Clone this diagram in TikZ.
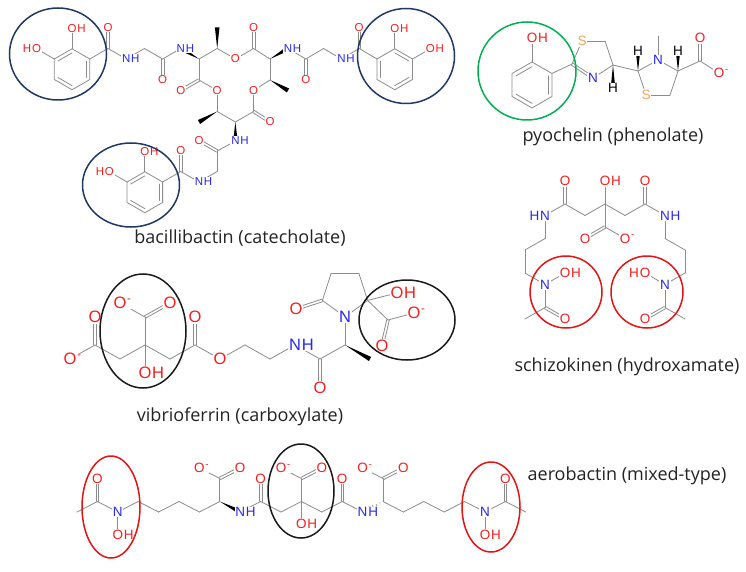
\documentclass[tikz,border=0pt]{standalone}
\usepackage{fontspec}
\usetikzlibrary{calc}
\newfontfamily\atomf{Liberation Sans}
\newfontfamily\capf{Open Sans}
\definecolor{bondc}{RGB}{140,140,140}
\definecolor{oc}{RGB}{245,30,30}
\definecolor{nc}{RGB}{40,40,235}
\definecolor{sc}{RGB}{245,165,95}
\definecolor{navyc}{RGB}{31,56,100}
\definecolor{greenc}{RGB}{0,176,80}
\definecolor{redc}{RGB}{228,20,20}
\definecolor{blackc}{RGB}{25,25,25}
\definecolor{capc}{RGB}{35,35,35}
\tikzset{
 bond/.style={draw=bondc,line width=0.8pt,line cap=round,line join=round},
 lbl/.style={fill=white,inner sep=0.8pt,outer sep=0pt},
 ringmark/.style={line width=1.5pt},
 caption/.style={font=\capf\fontsize{18pt}{20pt}\selectfont,text=capc,inner sep=0pt},
}
\newcommand{\chB}[2]{\draw[bond] (#1) -- (#2);}
\newcommand{\chD}[2]{\draw[bond] ($(#1)!1.3pt!90:(#2)$) -- ($(#2)!1.3pt!-90:(#1)$);\draw[bond] ($(#1)!1.3pt!-90:(#2)$) -- ($(#2)!1.3pt!90:(#1)$);}
\newcommand{\chI}[3]{\draw[bond] ($(#1)!0.2!(#3)$) -- ($(#2)!0.2!(#3)$);}
\newcommand{\chW}[2]{\fill[black] (#1) -- ($(#2)!2.3pt!90:(#1)$) -- ($(#2)!2.3pt!-90:(#1)$) -- cycle;}
\newcommand{\chH}[2]{\foreach \hp/\hw in {0.15/0.5pt,0.32/1pt,0.49/1.5pt,0.66/2pt,0.83/2.5pt}{\coordinate (hh) at ($(#1)!\hp!(#2)$); \draw[draw=bondc,line width=0.7pt] ($(hh)!\hw!90:(#2)$) -- ($(hh)!\hw!-90:(#2)$);}}
\newcommand{\chA}[3]{\node[lbl,text=#2] (#1t) at (#1) {#3};}
\newcommand{\chAR}[4]{\node[lbl,text=#2] (#1t) at (#1) {#3};\node[lbl,text=#2,anchor=base west,inner xsep=0pt] (#1s) at (#1t.base east) {#4};}
\newcommand{\chAL}[4]{\node[lbl,text=#2] (#1t) at (#1) {#3};\node[lbl,text=#2,anchor=base east,inner xsep=0pt] (#1s) at (#1t.base west) {#4};}
\newcommand{\chHex}[4]{%
 \coordinate (#1c) at (#2,#3);
 \coordinate (#11) at ({#2},{#3-#4});
 \coordinate (#12) at ({#2+0.866*#4},{#3-0.5*#4});
 \coordinate (#13) at ({#2+0.866*#4},{#3+0.5*#4});
 \coordinate (#14) at ({#2},{#3+#4});
 \coordinate (#15) at ({#2-0.866*#4},{#3+0.5*#4});
 \coordinate (#16) at ({#2-0.866*#4},{#3-0.5*#4});
 \draw[bond] (#11)--(#12)--(#13)--(#14)--(#15)--(#16)--cycle;}
\newcommand{\chMinus}{\textsuperscript{-}}
\begin{document}
\begin{tikzpicture}[x=1pt,y=-1pt]
\useasboundingbox (0,0) rectangle (746,572);
\fill[white] (0,0) rectangle (746,572);
% ================= bacillibactin =================
\begin{scope}[every node/.append style={font=\atomf\fontsize{11.5pt}{13pt}\selectfont}]
\chHex{bL}{72.05}{69.25}{20.5}
\coordinate (bLO1) at (72.05,28.25);
\coordinate (bLO2) at (36.55,48.75);
\coordinate (bC1) at (108,48.5);
\coordinate (bO1) at (108,27.5);
\coordinate (bN0) at (126.2,59);
\coordinate (bC2) at (144.4,48.5);
\coordinate (bC3) at (162.6,59);
\coordinate (bO3) at (162.6,80);
\coordinate (bN1) at (180.8,48.5);
\coordinate (bA1) at (199,59);
\coordinate (bB1) at (217.2,48.5);
\coordinate (bM1) at (217.2,27.5);
\coordinate (bE1) at (235.4,59);
\coordinate (bK1) at (253.6,48.5);
\coordinate (bK1O) at (253.6,27.5);
\coordinate (bA2) at (270,59);
\coordinate (bN2) at (288,48.5);
\coordinate (bB2) at (270,80);
\coordinate (bM2) at (288,90.5);
\coordinate (bE2) at (253.6,90.5);
\coordinate (bK2) at (253.6,111.5);
\coordinate (bK2O) at (270,122);
\coordinate (bA3) at (235.4,122);
\coordinate (bN3) at (235.4,141);
\coordinate (bB3) at (217.2,111.5);
\coordinate (bM3) at (199,122);
\coordinate (bE3) at (217.2,90.5);
\coordinate (bK3) at (199,80);
\coordinate (bK3O) at (180.8,90.5);
\coordinate (bC4) at (305.8,59);
\coordinate (bO4) at (305.8,80);
\coordinate (bC5) at (323.6,48.5);
\coordinate (bN5) at (341.4,59);
\coordinate (bC6) at (359.2,48.5);
\coordinate (bO6) at (359.2,27.5);
\chHex{bR}{394.75}{69.25}{20.5}
\coordinate (bRO1) at (394.75,28.25);
\coordinate (bRO2) at (430.25,48.75);
\coordinate (bC7) at (217.2,151);
\coordinate (bO7) at (199,140.5);
\coordinate (bC8) at (217.2,171.5);
\coordinate (bN8) at (199,182);
\coordinate (bC9) at (180.8,171.5);
\coordinate (bO9) at (180.8,150.5);
\chHex{bH}{144.85}{192.25}{20.5}
\coordinate (bHO1) at (144.85,151.25);
\coordinate (bHO2) at (109.35,171.75);
% bonds
\chB{bL2}{bC1} \chD{bC1}{bO1} \chB{bC1}{bN0} \chB{bN0}{bC2} \chB{bC2}{bC3} \chD{bC3}{bO3} \chB{bC3}{bN1} \chW{bA1}{bN1}
\chB{bL1}{bLO1} \chB{bL6}{bLO2}
\chI{bL1}{bL6}{bLc} \chI{bL5}{bL4}{bLc} \chI{bL3}{bL2}{bLc}
\chB{bA1}{bB1} \chW{bB1}{bM1} \chB{bB1}{bE1} \chB{bE1}{bK1} \chD{bK1}{bK1O} \chB{bK1}{bA2} \chW{bA2}{bN2} \chB{bA2}{bB2} \chW{bB2}{bM2} \chB{bB2}{bE2} \chB{bE2}{bK2} \chD{bK2}{bK2O} \chB{bK2}{bA3} \chW{bA3}{bN3} \chB{bA3}{bB3} \chW{bB3}{bM3} \chB{bB3}{bE3} \chB{bE3}{bK3} \chD{bK3}{bK3O} \chB{bK3}{bA1}
\chB{bN2}{bC4} \chD{bC4}{bO4} \chB{bC4}{bC5} \chB{bC5}{bN5} \chB{bN5}{bC6} \chD{bC6}{bO6} \chB{bC6}{bR6} \chB{bR1}{bRO1} \chB{bR2}{bRO2}
\chI{bR1}{bR2}{bRc} \chI{bR3}{bR4}{bRc} \chI{bR5}{bR6}{bRc}
\chB{bN3}{bC7} \chD{bC7}{bO7} \chB{bC7}{bC8} \chB{bC8}{bN8} \chB{bN8}{bC9} \chD{bC9}{bO9} \chB{bC9}{bH2} \chB{bH1}{bHO1} \chB{bH6}{bHO2}
\chI{bH1}{bH6}{bHc} \chI{bH5}{bH4}{bHc} \chI{bH3}{bH2}{bHc}
% labels
\chAR{bLO1}{oc}{O}{H} \chAL{bLO2}{oc}{O}{H} \chA{bO1}{oc}{O} \chAR{bN0}{nc}{N}{H} \chA{bO3}{oc}{O} \chAR{bN1}{nc}{N}{H}
\chA{bE1}{oc}{O} \chA{bK1O}{oc}{O} \chAR{bN2}{nc}{N}{H} \chA{bE2}{oc}{O} \chA{bK2O}{oc}{O} \chAR{bN3}{nc}{N}{H} \chA{bE3}{oc}{O} \chA{bK3O}{oc}{O}
\chA{bO4}{oc}{O} \chAR{bN5}{nc}{N}{H} \chA{bO6}{oc}{O} \chAR{bRO1}{oc}{O}{H} \chAR{bRO2}{oc}{O}{H}
\chA{bO7}{oc}{O} \chAR{bN8}{nc}{N}{H} \chA{bO9}{oc}{O} \chAR{bHO1}{oc}{O}{H} \chAL{bHO2}{oc}{O}{H}
\end{scope}
% ================= pyochelin =================
\begin{scope}[every node/.append style={font=\atomf\fontsize{13.5pt}{15pt}\selectfont}]
\chHex{pP}{532}{85}{23}
\coordinate (pO1) at (532,38);
\coordinate (pC2) at (572,64);
\coordinate (pS1) at (582,41);
\coordinate (pC5) at (605,41);
\coordinate (pC4) at (613,65);
\coordinate (pN3) at (593,78);
\coordinate (pH4) at (613,88);
\coordinate (pD2) at (638,71);
\coordinate (pHd) at (638,51);
\coordinate (pNn) at (658,60);
\coordinate (pMe) at (658,36);
\coordinate (pD4) at (678,71);
\coordinate (pHe) at (678,51);
\coordinate (pD5) at (670,95);
\coordinate (pS2) at (646,95);
\coordinate (pCc) at (700,61);
\coordinate (pOc1) at (700,38);
\coordinate (pOc2) at (719,73);
\chB{pP1}{pO1} \chB{pP2}{pC2} \chB{pC2}{pS1} \chB{pS1}{pC5} \chB{pC5}{pC4} \chB{pC4}{pN3} \chD{pN3}{pC2} \chW{pC4}{pH4}
\chB{pC4}{pD2} \chW{pD2}{pHd} \chB{pD2}{pNn} \chB{pNn}{pMe} \chB{pNn}{pD4} \chW{pD4}{pHe} \chB{pD4}{pD5} \chB{pD5}{pS2} \chB{pS2}{pD2}
\chB{pD4}{pCc} \chD{pCc}{pOc1} \chB{pCc}{pOc2}
\chI{pP1}{pP6}{pPc} \chI{pP5}{pP4}{pPc} \chI{pP3}{pP2}{pPc}
\chAR{pO1}{oc}{O}{H} \chA{pS1}{sc}{S} \chA{pN3}{nc}{N} \chA{pH4}{black}{H} \chA{pHd}{black}{H} \chA{pNn}{nc}{N} \chA{pHe}{black}{H} \chA{pS2}{sc}{S} \chA{pOc1}{oc}{O} \chAR{pOc2}{oc}{O}{\chMinus}
\end{scope}
% ================= schizokinen =================
\begin{scope}[every node/.append style={font=\atomf\fontsize{13.5pt}{15pt}\selectfont}]
\coordinate (sC) at (605,204);
\coordinate (sOH) at (605,181);
\coordinate (sCc) at (605,227);
\coordinate (sOc1) at (585,238.5);
\coordinate (sOc2) at (625,238.5);
\coordinate (sL1) at (585,215.5);
\coordinate (sL2) at (565,204);
\coordinate (sL2O) at (565,181);
\coordinate (sLN) at (545,215.5);
\coordinate (sL3) at (545,238.5);
\coordinate (sL4) at (525,250);
\coordinate (sL5) at (525,273);
\coordinate (sLN2) at (545,284.5);
\coordinate (sLO) at (565,273);
\coordinate (sL6) at (545,307.5);
\coordinate (sL6O) at (565,319);
\coordinate (sLMe) at (525,319);
\coordinate (sR1) at (625,215.5);
\coordinate (sR2) at (645,204);
\coordinate (sR2O) at (645,181);
\coordinate (sRN) at (665,215.5);
\coordinate (sR3) at (665,238.5);
\coordinate (sR4) at (685,250);
\coordinate (sR5) at (685,273);
\coordinate (sRN2) at (665,284.5);
\coordinate (sRO) at (645,273);
\coordinate (sR6) at (665,307.5);
\coordinate (sR6O) at (645,319);
\coordinate (sRMe) at (685,319);
\chB{sC}{sOH} \chB{sC}{sCc} \chD{sCc}{sOc1} \chB{sCc}{sOc2}
\chB{sC}{sL1} \chB{sL1}{sL2} \chD{sL2}{sL2O} \chB{sL2}{sLN} \chB{sLN}{sL3} \chB{sL3}{sL4} \chB{sL4}{sL5} \chB{sL5}{sLN2} \chB{sLN2}{sLO} \chB{sLN2}{sL6} \chD{sL6}{sL6O} \chB{sL6}{sLMe}
\chB{sC}{sR1} \chB{sR1}{sR2} \chD{sR2}{sR2O} \chB{sR2}{sRN} \chB{sRN}{sR3} \chB{sR3}{sR4} \chB{sR4}{sR5} \chB{sR5}{sRN2} \chB{sRN2}{sRO} \chB{sRN2}{sR6} \chD{sR6}{sR6O} \chB{sR6}{sRMe}
\chAR{sOH}{oc}{O}{H} \chA{sOc1}{oc}{O} \chAR{sOc2}{oc}{O}{\chMinus} \chA{sL2O}{oc}{O} \chAL{sLN}{nc}{N}{H} \chA{sLN2}{nc}{N} \chAR{sLO}{oc}{O}{H} \chA{sL6O}{oc}{O}
\chA{sR2O}{oc}{O} \chAR{sRN}{nc}{N}{H} \chA{sRN2}{nc}{N} \chAL{sRO}{oc}{O}{H} \chA{sR6O}{oc}{O}
\end{scope}
% ================= vibrioferrin =================
\begin{scope}[every node/.append style={font=\atomf\fontsize{16.5pt}{18pt}\selectfont}]
\coordinate (vC) at (145,345);
\coordinate (vCu) at (145,317);
\coordinate (vOu1) at (120,303);
\coordinate (vOu2) at (170,303);
\coordinate (vOH) at (145,373);
\coordinate (vL1) at (120,359);
\coordinate (vL2) at (95,345);
\coordinate (vL2O) at (95,317);
\coordinate (vL2Om) at (70,359);
\coordinate (vR1) at (170,359);
\coordinate (vR2) at (195,345);
\coordinate (vR2O) at (195,317);
\coordinate (vOe) at (220,359);
\coordinate (vR3) at (245,345);
\coordinate (vR4) at (270,359);
\coordinate (vN) at (295,345);
\coordinate (vR5) at (320,359);
\coordinate (vR5O) at (320,388);
\coordinate (vCa) at (345,345);
\coordinate (vMe) at (370,359);
\coordinate (vNr) at (345,317);
\coordinate (vC5) at (322.4,300.4);
\coordinate (vC4) at (331,273.7);
\coordinate (vC3) at (359,273.7);
\coordinate (vC2) at (367.6,300.4);
\coordinate (vC5O) at (296,309);
\coordinate (vOH2) at (397,293);
\coordinate (vCc) at (388,320);
\coordinate (vCcOm) at (414,313);
\coordinate (vCcO) at (382,346);
\chB{vC}{vCu} \chB{vCu}{vOu1} \chD{vCu}{vOu2} \chB{vC}{vOH}
\chB{vC}{vL1} \chB{vL1}{vL2} \chD{vL2}{vL2O} \chB{vL2}{vL2Om}
\chB{vC}{vR1} \chB{vR1}{vR2} \chD{vR2}{vR2O} \chB{vR2}{vOe} \chB{vOe}{vR3} \chB{vR3}{vR4} \chB{vR4}{vN} \chB{vN}{vR5} \chD{vR5}{vR5O} \chB{vR5}{vCa} \chW{vCa}{vMe} \chB{vCa}{vNr}
\chB{vNr}{vC5} \chB{vC5}{vC4} \chB{vC4}{vC3} \chB{vC3}{vC2} \chB{vC2}{vNr} \chD{vC5}{vC5O} \chB{vC2}{vOH2} \chB{vC2}{vCc} \chB{vCc}{vCcOm} \chD{vCc}{vCcO}
\chAR{vOu1}{oc}{O}{\chMinus} \chA{vOu2}{oc}{O} \chAR{vOH}{oc}{O}{H} \chA{vL2O}{oc}{O} \chAR{vL2Om}{oc}{O}{\chMinus}
\chA{vR2O}{oc}{O} \chA{vOe}{oc}{O} \chAR{vN}{nc}{N}{H} \chA{vR5O}{oc}{O} \chA{vNr}{nc}{N} \chA{vC5O}{oc}{O} \chAR{vOH2}{oc}{O}{H} \chAR{vCcOm}{oc}{O}{\chMinus} \chA{vCcO}{oc}{O}
\end{scope}
% ================= aerobactin =================
\begin{scope}[every node/.append style={font=\atomf\fontsize{13.5pt}{15pt}\selectfont}]
\coordinate (aMe1) at (77,512);
\coordinate (aK1) at (97.4,501.5);
\coordinate (aK1O) at (97.4,478.5);
\coordinate (aN1) at (117.8,512);
\coordinate (aO1) at (117.8,535);
\coordinate (a3) at (138.2,501.5);
\coordinate (a4) at (158.6,512);
\coordinate (a5) at (179,501.5);
\coordinate (a6) at (199.4,512);
\coordinate (aA1) at (219.8,501.5);
\coordinate (aA1c) at (219.8,478.5);
\coordinate (aA1m) at (199.4,468);
\coordinate (aA1o) at (240.2,468);
\coordinate (aN2) at (240.2,512);
\coordinate (aK2) at (260.6,501.5);
\coordinate (aK2O) at (260.6,478.5);
\coordinate (a10) at (281,512);
\coordinate (aC) at (301.4,501.5);
\coordinate (aCc) at (301.4,478.5);
\coordinate (aCm) at (281,468);
\coordinate (aCo) at (321.8,468);
\coordinate (aCOH) at (301.4,524);
\coordinate (a12) at (321.8,512);
\coordinate (aK3) at (342.2,501.5);
\coordinate (aK3O) at (342.2,478.5);
\coordinate (aN3) at (362.6,512);
\coordinate (aA2) at (383,501.5);
\coordinate (aA2c) at (383,478.5);
\coordinate (aA2m) at (362.6,468);
\coordinate (aA2o) at (403.4,468);
\coordinate (a16) at (403.4,512);
\coordinate (a17) at (423.8,501.5);
\coordinate (a18) at (444.2,512);
\coordinate (a19) at (464.6,501.5);
\coordinate (aN4) at (485,512);
\coordinate (aO4) at (485,535);
\coordinate (aK4) at (505.4,501.5);
\coordinate (aK4O) at (505.4,478.5);
\coordinate (aMe2) at (525.8,512);
\chB{aMe1}{aK1} \chD{aK1}{aK1O} \chB{aK1}{aN1} \chB{aN1}{aO1} \chB{aN1}{a3} \chB{a3}{a4} \chB{a4}{a5} \chB{a5}{a6} \chB{a6}{aA1}
\chB{aA1}{aA1c} \chB{aA1c}{aA1m} \chD{aA1c}{aA1o} \chW{aA1}{aN2} \chB{aN2}{aK2} \chD{aK2}{aK2O} \chB{aK2}{a10} \chB{a10}{aC}
\chB{aC}{aCc} \chB{aCc}{aCm} \chD{aCc}{aCo} \chB{aC}{aCOH} \chB{aC}{a12} \chB{a12}{aK3} \chD{aK3}{aK3O} \chB{aK3}{aN3} \chH{aA2}{aN3}
\chB{aA2}{aA2c} \chB{aA2c}{aA2m} \chD{aA2c}{aA2o} \chB{aA2}{a16} \chB{a16}{a17} \chB{a17}{a18} \chB{a18}{a19} \chB{a19}{aN4} \chB{aN4}{aO4} \chB{aN4}{aK4} \chD{aK4}{aK4O} \chB{aK4}{aMe2}
\chA{aK1O}{oc}{O} \chA{aN1}{nc}{N} \chAR{aO1}{oc}{O}{H} \chAR{aA1m}{oc}{O}{\chMinus} \chA{aA1o}{oc}{O} \chAR{aN2}{nc}{N}{H} \chA{aK2O}{oc}{O}
\chAR{aCm}{oc}{O}{\chMinus} \chA{aCo}{oc}{O} \chAR{aCOH}{oc}{O}{H} \chA{aK3O}{oc}{O} \chAR{aN3}{nc}{N}{H} \chAR{aA2m}{oc}{O}{\chMinus} \chA{aA2o}{oc}{O}
\chA{aN4}{nc}{N} \chAR{aO4}{oc}{O}{H} \chA{aK4O}{oc}{O}
\end{scope}
% ================= marks =================
\draw[navyc,ringmark] (58,54) ellipse [x radius=48.5pt, y radius=46pt];
\draw[navyc,ringmark] (406,56) ellipse [x radius=48.5pt, y radius=47.5pt];
\draw[navyc,ringmark] (131,185) ellipse [x radius=48.5pt, y radius=42pt];
\draw[greenc,ringmark] (527,71) circle [radius=49pt];
\draw[redc,ringmark] (566,292) circle [radius=36pt];
\draw[redc,ringmark] (647,292) circle [radius=36pt];
\draw[blackc,ringmark] (143,331) ellipse [x radius=43pt, y radius=57pt];
\draw[blackc,ringmark] (407,320) ellipse [x radius=48pt, y radius=40pt];
\draw[redc,ringmark] (111,507) ellipse [x radius=29pt, y radius=51pt];
\draw[blackc,ringmark] (301,491) ellipse [x radius=33pt, y radius=47pt];
\draw[redc,ringmark] (491,507) ellipse [x radius=29pt, y radius=45pt];
% ================= captions =================
\node[caption] (cap1) at (240,238) {bacillibactin (catecholate)};
\node[caption] (cap2) at (613,137) {pyochelin (phenolate)};
\node[caption] (cap3) at (627,367) {schizokinen (hydroxamate)};
\node[caption] (cap4) at (240,417) {vibrioferrin (carboxylate)};
\node[caption] (cap5) at (627,476) {aerobactin (mixed-type)};
\end{tikzpicture}
\end{document}
